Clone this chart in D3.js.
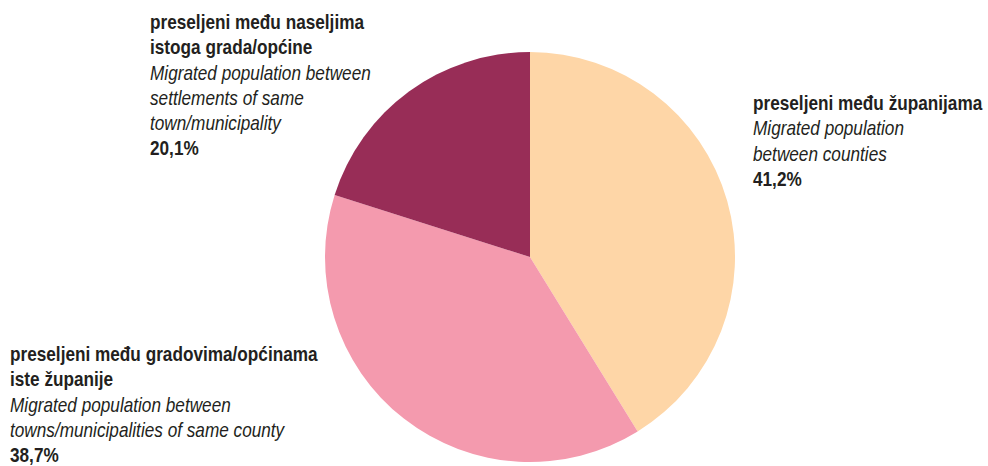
<!DOCTYPE html>
<html>
<head>
<meta charset="utf-8">
<script src="https://cdn.jsdelivr.net/npm/d3@7"></script>
<style>
  body { margin: 0; background: #fff; }
  svg text { font-family: "Liberation Sans", Arial, sans-serif; fill: #231f20; }
  .hr { font-weight: bold; }
  .en { font-style: italic; }
  .pct { font-weight: bold; }
</style>
</head>
<body>
<svg id="chart"></svg>
<script>
const width = 988;
const height = 466;

const values = [41.2, 38.7, 20.1];
const labelsHr = [
  ["preseljeni među županijama"],
  ["preseljeni među gradovima/općinama", "iste županije"],
  ["preseljeni među naseljima", "istoga grada/općine"]
];
const labelsEn = [
  ["Migrated population", "between counties"],
  ["Migrated population between", "towns/municipalities of same county"],
  ["Migrated population between", "settlements of same", "town/municipality"]
];
const colors = ["#fed6a7", "#f49aae", "#982d57"];

// where each label block starts (left x, first baseline)
const labelPos = [[753, 110], [10, 361], [150, 29]];
const lineH = 25.3;
const squeeze = 0.86; // condensed look

const svg = d3.select("#chart")
  .attr("width", width)
  .attr("height", height);

const cx = 530, cy = 257, r = 205;

const pie = d3.pie().sort(null).value(d => d);
const arc = d3.arc().innerRadius(0).outerRadius(r);

const g = svg.append("g").attr("transform", `translate(${cx},${cy})`);

g.selectAll("path")
  .data(pie(values))
  .enter()
  .append("path")
  .attr("d", arc)
  .attr("fill", (d, i) => colors[i]);

const fmt = v => d3.format(".1f")(v).replace(".", ",") + "%";

values.forEach((v, i) => {
  const t = svg.append("g")
    .attr("transform", `translate(${labelPos[i][0]},${labelPos[i][1]}) scale(${squeeze},1)`)
    .append("text")
    .style("font-size", "20px");
  let n = 0;
  labelsHr[i].forEach(line => {
    t.append("tspan").attr("class", "hr")
      .attr("x", 0).attr("y", n * lineH).text(line);
    n++;
  });
  labelsEn[i].forEach(line => {
    t.append("tspan").attr("class", "en")
      .attr("x", 0).attr("y", n * lineH).text(line);
    n++;
  });
  t.append("tspan").attr("class", "pct")
    .attr("x", 0).attr("y", n * lineH).text(fmt(v));
});
</script>
</body>
</html>
